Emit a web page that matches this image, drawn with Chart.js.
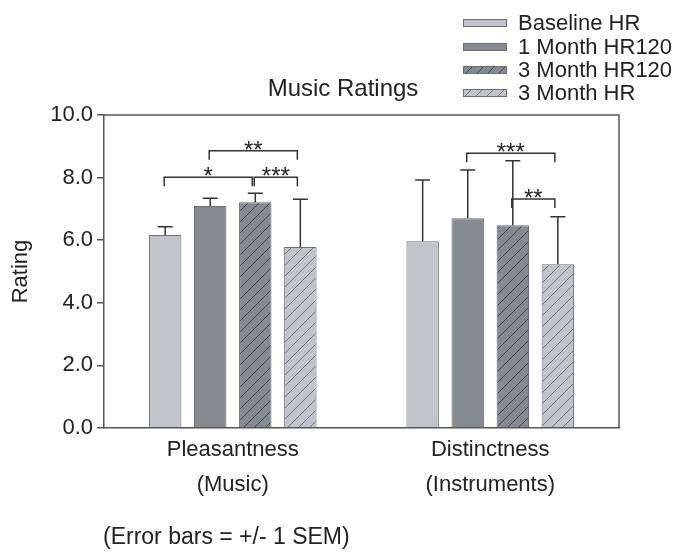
<!DOCTYPE html>
<html>
<head>
<meta charset="utf-8">
<script src="https://cdn.jsdelivr.net/npm/chart.js@4.4.0/dist/chart.umd.min.js"></script>
<style>
  html, body { margin: 0; padding: 0; background: #ffffff; }
  #wrap { width: 686px; height: 552px; position: relative; }
</style>
</head>
<body>
<div id="wrap"><canvas id="c" width="686" height="552"></canvas></div>
<script>
// ---------- data ----------
const categories = [['Pleasantness', '(Music)'], ['Distinctness', '(Instruments)']];
const seriesNames = ['Baseline HR', '1 Month HR120', '3 Month HR120', '3 Month HR'];
const baselineHR   = [6.17, 5.97];
const month1HR120  = [7.09, 6.70];
const month3HR120  = [7.21, 6.48];
const month3HR     = [5.78, 5.23];
const baselineSEM  = [0.26, 1.95];
const month1SEM    = [0.25, 1.54];
const month3_120SEM= [0.29, 2.06];
const month3SEM    = [1.53, 1.52];
const yTicks = [0, 2, 4, 6, 8, 10];
// significance brackets: [category, fromSeries, toSeries, level, label]
const brackets = [
  [0, 0, 2, 8.01, '*'],
  [0, 1, 3, 8.86, '**'],
  [0, 2, 3, 8.01, '***'],
  [1, 1, 3, 8.78, '***'],
  [1, 2, 3, 7.32, '**']
];
const chartTitle = 'Music Ratings';
const yTitle = 'Rating';
const footNote = '(Error bars = +/- 1 SEM)';

// ---------- styles ----------
const FONT = "'Liberation Sans', Arial, sans-serif";
const TXT = '#222222';
const AXIS = '#555555';
const canvas = document.getElementById('c');
const ctx = canvas.getContext('2d');

function hatch(base, line) {
  const s = 11;
  const c = document.createElement('canvas');
  c.width = s; c.height = s;
  const x = c.getContext('2d');
  x.fillStyle = base; x.fillRect(0, 0, s, s);
  x.strokeStyle = line; x.lineWidth = 1;
  x.beginPath();
  x.moveTo(0, s); x.lineTo(s, 0);
  x.moveTo(-2, 2); x.lineTo(2, -2);
  x.moveTo(s - 2, s + 2); x.lineTo(s + 2, s - 2);
  x.stroke();
  return ctx.createPattern(c, 'repeat');
}
const LIGHT = '#c1c5cb';
const DARK = '#868b92';
const fills = [LIGHT, DARK, hatch(DARK, '#3e4146'), hatch(LIGHT, '#6e7278')];
const seriesValues = [baselineHR, month1HR120, month3HR120, month3HR];
const seriesSEM = [baselineSEM, month1SEM, month3_120SEM, month3SEM];

const extras = {
  id: 'extras',
  afterDatasetsDraw(chart) {
    const c = chart.ctx;
    const y = chart.scales.y;
    const a = chart.chartArea;
    c.save();
    // top and right frame
    c.strokeStyle = AXIS; c.lineWidth = 1.5;
    c.beginPath();
    c.moveTo(a.left, a.top); c.lineTo(a.right, a.top); c.lineTo(a.right, a.bottom);
    c.stroke();
    // error bars
    c.strokeStyle = '#333333'; c.lineWidth = 1.5;
    seriesValues.forEach((vals, di) => {
      const meta = chart.getDatasetMeta(di);
      vals.forEach((v, i) => {
        const bar = meta.data[i];
        const yt = y.getPixelForValue(v + seriesSEM[di][i]);
        const yb = y.getPixelForValue(v);
        c.beginPath();
        c.moveTo(bar.x, yb); c.lineTo(bar.x, yt);
        c.moveTo(bar.x - 7.5, yt); c.lineTo(bar.x + 7.5, yt);
        c.stroke();
      });
    });
    // brackets
    c.strokeStyle = '#333333'; c.lineWidth = 1.5;
    c.fillStyle = TXT;
    c.font = '24px ' + FONT;
    c.textAlign = 'center'; c.textBaseline = 'alphabetic';
    brackets.forEach(([cat, s0, s1, lvl, lab]) => {
      const x0 = chart.getDatasetMeta(s0).data[cat].x - 1;
      let x1 = chart.getDatasetMeta(s1).data[cat].x - 3;
      const yy = y.getPixelForValue(lvl);
      c.beginPath();
      c.moveTo(x0, yy + 9); c.lineTo(x0, yy); c.lineTo(x1, yy); c.lineTo(x1, yy + 9);
      c.stroke();
      c.fillText(lab, (x0 + x1) / 2, yy + 7);
    });
    // title
    c.font = '24px ' + FONT;
    c.textBaseline = 'middle';
    c.fillText(chartTitle, 343, 89);
    // foot note
    c.font = '23px ' + FONT;
    c.textAlign = 'left';
    c.fillText(footNote, 103, 538);
    // legend
    const rows = [23, 47, 70, 93];
    seriesNames.forEach((n, i) => {
      c.fillStyle = fills[i];
      c.fillRect(463, rows[i] - 4, 44, 8);
      c.strokeStyle = '#6b6f75'; c.lineWidth = 1;
      c.strokeRect(463.5, rows[i] - 3.5, 43, 7);
      c.fillStyle = TXT;
      c.font = '22px ' + FONT;
      c.textAlign = 'left'; c.textBaseline = 'middle';
      c.fillText(n, 518, rows[i] + 1);
    });
    c.restore();
  }
};

new Chart(canvas, {
  type: 'bar',
  data: {
    labels: categories,
    datasets: seriesNames.map((n, i) => ({
      label: n,
      data: seriesValues[i],
      backgroundColor: fills[i],
      borderColor: '#6b6f75',
      borderWidth: 1,
      categoryPercentage: 0.7,
      barPercentage: 0.72
    }))
  },
  options: {
    responsive: false,
    animation: false,
    events: [],
    layout: { padding: { top: 115, right: 67, left: 0, bottom: 0 } },
    plugins: { legend: { display: false }, tooltip: { enabled: false }, title: { display: false } },
    scales: {
      x: {
        grid: { display: false },
        border: { display: true, color: AXIS, width: 1.5 },
        ticks: { color: TXT, font: { family: FONT, size: 22, lineHeight: 1.6 }, padding: -4, maxRotation: 0 },
        afterFit(s) { s.height = 124; }
      },
      y: {
        min: 0, max: 10,
        afterBuildTicks(s) { s.ticks = yTicks.map(v => ({ value: v })); },
        ticks: { color: TXT, font: { family: FONT, size: 22 }, padding: 4, callback: v => Number(v).toFixed(1) },
        grid: { display: true, drawOnChartArea: false, drawTicks: true, tickLength: 7, color: AXIS, lineWidth: 1.5 },
        border: { display: true, color: AXIS, width: 1.5 },
        title: { display: true, text: yTitle, color: TXT, font: { family: FONT, size: 22 }, padding: { top: 8, bottom: 0 } },
        afterFit(s) { s.width = 104; }
      }
    }
  },
  plugins: [extras]
});
</script>
</body>
</html>
